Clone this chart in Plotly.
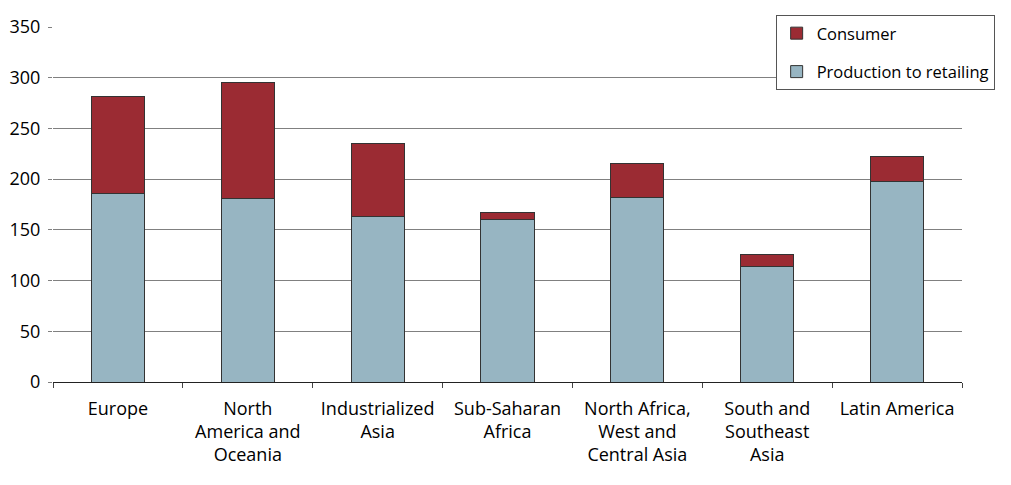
import plotly.graph_objects as go

categories = ["Europe", "North<br>America and<br>Oceania", "Industrialized<br>Asia",
              "Sub-Saharan<br>Africa", "North Africa,<br>West and<br>Central Asia",
              "South and<br>Southeast<br>Asia", "Latin America"]
production = [186, 181, 163, 160, 182, 114, 198]
consumer = [95, 114, 72, 7, 33, 12, 24]
y_ticks = [0, 50, 100, 150, 200, 250, 300, 350]

FONT = "Open Sans"
fig = go.Figure()
fig.add_trace(go.Bar(x=categories, y=production, name="Production to retailing",
                     marker=dict(color="#97B5C2", line=dict(color="#333333", width=1)),
                     legendgroup="a", legendrank=2))
fig.add_trace(go.Bar(x=categories, y=consumer, name="Consumer",
                     marker=dict(color="#9B2B33", line=dict(color="#333333", width=1)),
                     legendgroup="b", legendrank=1))

fig.update_layout(
    width=1003, height=477,
    margin=dict(l=45, r=49, t=19, b=103, autoexpand=False),
    barmode="stack", bargap=0.59,
    plot_bgcolor="white", paper_bgcolor="white",
    font=dict(family=FONT, size=18, color="#000000"),
    showlegend=True,
    legend=dict(x=0.795, y=1.034, xanchor="left", yanchor="top",
                traceorder="grouped", tracegroupgap=14,
                bordercolor="#555555", borderwidth=1, bgcolor="white",
                font=dict(family=FONT, size=16.5)),
    xaxis=dict(showline=True, linecolor="#222222", linewidth=1,
               ticks="outside", tickson="boundaries", ticklen=5, tickcolor="#444444",
               showgrid=False, tickfont=dict(size=18), ticklabelstandoff=10),
    yaxis=dict(range=[0, 350], tickvals=y_ticks, showgrid=True,
               gridcolor="#808080", gridwidth=1, zeroline=False,
               ticks="outside", ticklen=4, tickcolor="#808080",
               tickfont=dict(size=18), ticklabelstandoff=4),
)
fig.write_html("out.html")
